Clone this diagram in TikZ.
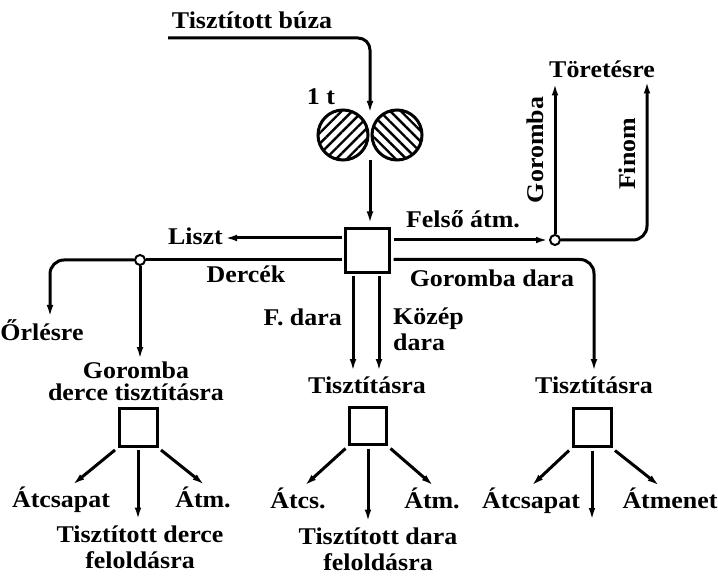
\documentclass[tikz,border=0pt]{standalone}
\usepackage{fontspec}
\setmainfont{Liberation Serif}[FakeStretch=1.08]
\usetikzlibrary{arrows.meta,patterns.meta}

\tikzset{
  lbl/.style={font=\fontsize{24}{25.5}\selectfont\bfseries, inner sep=1pt, anchor=base},
  arr/.style={line width=3pt, -{Latex[length=13pt,width=6.5pt]}},
  plain/.style={line width=3pt},
  box/.style={draw, line width=3pt, inner sep=0pt, outer sep=4pt},
  dot/.style={circle, draw, fill=white, line width=2pt, minimum size=10pt, inner sep=0pt},
  roller/.style={circle, draw, line width=3pt, minimum size=50pt, inner sep=0pt},
}

\begin{document}
\begin{tikzpicture}[x=1pt,y=-1pt]
\useasboundingbox (0,0) rectangle (718,580);

% feed and rollers
\node[lbl] (buza) at (252,29) {Tisztított búza};
\coordinate (feed) at (168,38);
\coordinate (nipin) at (370,114);
\coordinate (nipout) at (370,160);
\node[roller, pattern={Lines[angle=45,distance=7.5pt,line width=2.4pt]}] (rl) at (343,135) {};
\node[roller, pattern={Lines[angle=-45,distance=7.5pt,line width=2.4pt]}] (rr) at (397,135) {};
\node[lbl] (t1) at (321,105) {1 t};
\draw[arr, rounded corners=12pt] (feed) -| (nipin);

% first sifter
\node[box, minimum size=44pt] (b1) at (367.5,250.5) {};
\draw[arr] (nipout) -- (nipout |- b1.north);

% flour and middlings to the left
\node[lbl, anchor=base east] (liszt) at (224,245) {Liszt};
\draw[arr] ([yshift=12.5pt]b1.west) -- ([yshift=12.5pt]b1.west -| liszt.east);
\node[dot] (ds) at (140,260) {};
\draw[plain] ([yshift=-9.5pt]b1.west) -- (ds.east);
\node[lbl] (dercek) at (246,283) {Dercék};
\node[lbl] (orl) at (42,340) {Őrlésre};
\draw[arr, rounded corners=14pt] (ds.west) -| ([xshift=8pt]orl.north);
\node[lbl, align=center] (gd) at (136,400) {Goromba\\[-3.5pt]derce tisztításra};
\draw[arr] (ds.south) -- (ds.south |- gd.north);

% left purifier
\node[box, minimum size=38pt] (b2) at (138,427) {};
\node[lbl] (a1) at (61,507) {Átcsapat};
\node[lbl] (a2) at (203,507) {Átm.};
\node[lbl, align=center] (a3) at (140,568) {Tisztított derce\\feloldásra};
\draw[arr] (b2.south west) -- ([xshift=11pt]a1.north);
\draw[arr, shorten >=4pt] (b2.south) -- (b2.south |- a3.north);
\draw[arr] (b2.south east) -- ([xshift=2pt]a2.north);

% semolina downwards
\node[lbl] (t2) at (367,393) {Tisztításra};
\node[lbl, anchor=base east] (fdara) at (343,325) {F. dara};
\node[lbl, anchor=base west, align=left] (kozep) at (392,350) {Közép\\dara};
\draw[arr, shorten >=3pt] ([xshift=-14.5pt]b1.south) -- ([xshift=-14.5pt]b1.south |- t2.north);
\draw[arr, shorten >=3pt] ([xshift=11.5pt]b1.south) -- ([xshift=11.5pt]b1.south |- t2.north);

% middle purifier
\node[box, minimum size=37pt] (b3) at (368,426) {};
\node[lbl] (c1) at (298,508) {Átcs.};
\node[lbl] (c2) at (432,508) {Átm.};
\node[lbl, align=center] (c3) at (378,570) {Tisztított dara\\feloldásra};
\draw[arr] (b3.south west) -- ([xshift=6pt]c1.north);
\draw[arr, shorten >=4pt] (b3.south) -- (b3.south |- c3.north);
\draw[arr] (b3.south east) -- ([xshift=2pt]c2.north);

% upper overtail to the break
\node[dot] (fs) at (555,240) {};
\node[lbl] (felso) at (463,228) {Felső átm.};
\draw[arr] (b1.east |- fs.west) -- (fs.west);
\node[lbl] (tor) at (602,78) {Töretésre};
\draw[arr, shorten >=3pt] (fs.north) -- (fs.north |- tor.south);
\draw[arr, rounded corners=14pt, shorten >=1pt] (fs.east) -| ([xshift=45pt]tor.south);
\node[lbl, rotate=90, anchor=center] (gor) at (535,150) {Goromba};
\node[lbl, rotate=90, anchor=center] (finom) at (627,154) {Finom};

% coarse semolina to the right
\node[lbl] (t4) at (594,393) {Tisztításra};
\node[lbl] (gdara) at (492,287) {Goromba dara};
\draw[arr, rounded corners=14pt, shorten >=3pt] ([yshift=-9pt]b1.east) -| (t4.north);

% right purifier
\node[box, minimum size=38pt] (b4) at (592,427.5) {};
\node[lbl] (d1) at (531,508) {Átcsapat};
\node[lbl] (d2) at (670,508) {Átmenet};
\coordinate (d3) at (592,521);
\draw[arr] (b4.south west) -- (d1.north);
\draw[arr] (b4.south) -- (d3);
\draw[arr] (b4.south east) -- ([xshift=-10pt]d2.north);
\end{tikzpicture}
\end{document}
